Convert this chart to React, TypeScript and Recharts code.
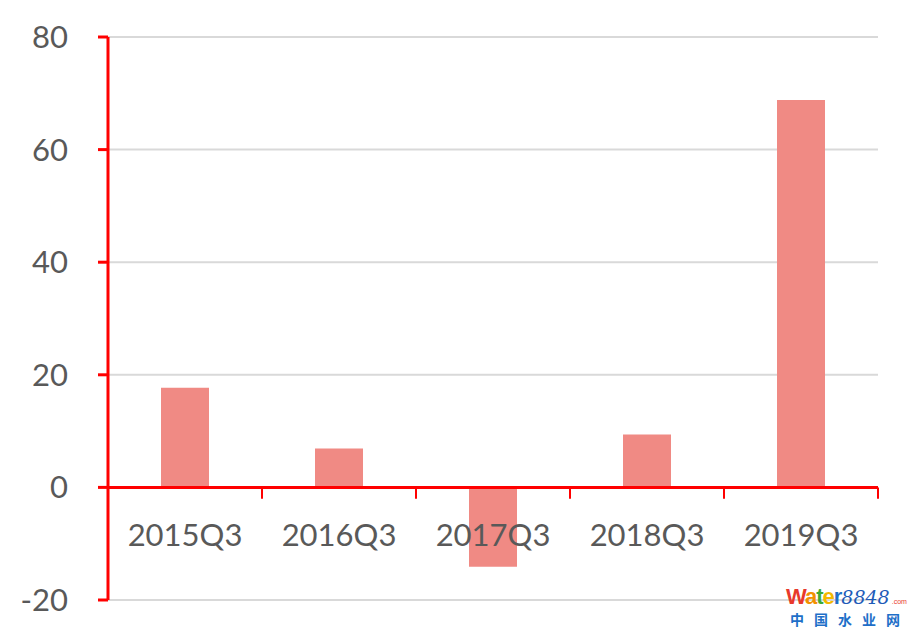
import React from 'react';
import { BarChart, Bar, XAxis, YAxis, CartesianGrid, ReferenceLine } from 'recharts';

const quarters = ['2015Q3', '2016Q3', '2017Q3', '2018Q3', '2019Q3'];
const values = [17.7, 6.9, -14.1, 9.4, 68.8];
const yTicks = [-20, 0, 20, 40, 60, 80];
const boundaries = [1, 2, 3, 4, 5];

const data = quarters.map((q, i) => ({ name: q, value: values[i], pos: i + 0.5 }));

const RED = '#FF0000';
const FONT = 'Lato, "Open Sans", sans-serif';

const Watermark: React.FC = () => (
  <div style={{ position: 'absolute', left: 786, top: 586, fontFamily: 'Arial, sans-serif', lineHeight: 1 }}>
    <div style={{ display: 'flex', alignItems: 'baseline' }}>
      <span style={{ fontSize: 22, fontWeight: 'bold', letterSpacing: -1 }}>
        <span style={{ color: '#E8392B' }}>W</span>
        <span style={{ color: '#F29100' }}>a</span>
        <span style={{ color: '#3DAA35' }}>t</span>
        <span style={{ color: '#F2B800' }}>e</span>
        <span style={{ color: '#1E6FC8' }}>r</span>
      </span>
      <span style={{ fontSize: 19, fontStyle: 'italic', fontFamily: '"DejaVu Serif", serif', color: '#1E5BB8' }}>8848</span>
      <span style={{ fontSize: 7, color: '#E8392B', marginLeft: 2 }}>.com</span>
    </div>
    <div style={{ fontFamily: '"Noto Sans CJK SC", sans-serif', fontSize: 14, fontWeight: 'bold', color: '#1E6FC8', letterSpacing: 10, marginTop: 4, marginLeft: 4 }}>
      中国水业网
    </div>
  </div>
);

export default function App() {
  return (
    <div style={{ position: 'absolute', left: 0, top: 0, width: 914, height: 635, background: '#fff' }}>
      <BarChart width={914} height={635} data={data} margin={{ top: 37, right: 36, bottom: 5, left: 0 }}>
        <CartesianGrid vertical={false} stroke="#D9D9D9" strokeWidth={2} />
        <XAxis
          dataKey="name"
          height={30}
          axisLine={false}
          tickLine={false}
          tickSize={0}
          tickMargin={-76}
          interval={0}
          tick={{ fill: '#595959', fontSize: 31, fontFamily: FONT }}
        />
        <XAxis xAxisId="n" dataKey="pos" type="number" domain={[0, 5]} allowDataOverflow hide />
        <YAxis
          width={108}
          domain={[-20, 80]}
          ticks={yTicks}
          interval={0}
          axisLine={{ stroke: RED, strokeWidth: 3 }}
          tickLine={{ stroke: RED, strokeWidth: 3 }}
          tickSize={10}
          tickMargin={30}
          tick={{ fill: '#595959', fontSize: 31, fontFamily: FONT }}
        />
        <Bar dataKey="value" fill="#F08A84" barSize={48} isAnimationActive={false} />
        <ReferenceLine y={0} stroke={RED} strokeWidth={3} />
        {boundaries.map((b) => (
          <ReferenceLine
            key={b}
            xAxisId="n"
            segment={[{ x: b, y: 0 }, { x: b, y: -2 }]}
            stroke={RED}
            strokeWidth={2}
            ifOverflow="visible"
          />
        ))}
      </BarChart>
      <Watermark />
    </div>
  );
}
